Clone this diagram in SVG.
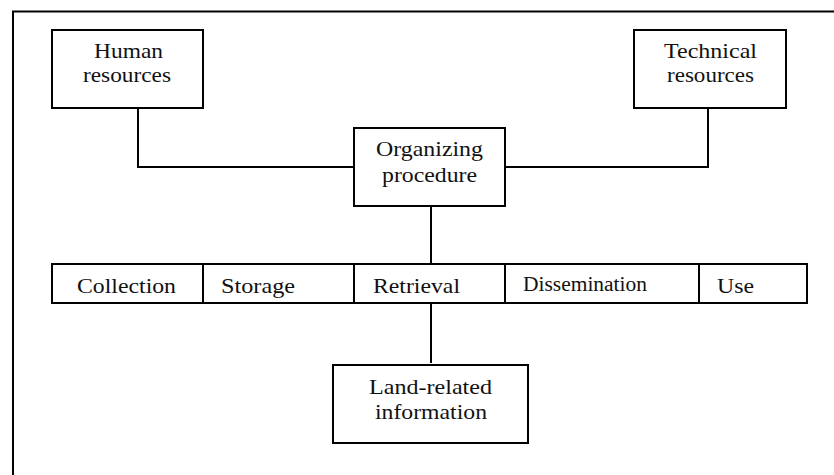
<svg xmlns="http://www.w3.org/2000/svg" width="834" height="475" viewBox="0 0 834 475">
  <style>
    .box { fill: #fff; stroke: #000; stroke-width: 2; }
    .line { fill: none; stroke: #000; stroke-width: 2; }
  </style>
  <rect width="834" height="475" fill="#fff"/>

  <!-- page frame (top and left edges) -->
  <path class="line" d="M13 475 V11.5 H834"/>

  <g id="connectors">
    <path class="line" d="M138 108 V167 H354"/>
    <path class="line" d="M708 108 V167 H505"/>
    <path class="line" d="M431 206 V264"/>
    <path class="line" d="M431 303 V363"/>
  </g>

  <g font-family="Liberation Serif, DejaVu Serif, serif" font-size="22" fill="#111">
    <g id="human-resources">
      <rect class="box" x="52" y="30" width="151" height="78"/>
      <text x="94" y="58" textLength="69" lengthAdjust="spacingAndGlyphs">Human</text>
      <text x="83" y="82" textLength="88" lengthAdjust="spacingAndGlyphs">resources</text>
    </g>

    <g id="technical-resources">
      <rect class="box" x="634" y="30" width="152" height="78"/>
      <text x="664" y="58" textLength="93" lengthAdjust="spacingAndGlyphs">Technical</text>
      <text x="667" y="82" textLength="87" lengthAdjust="spacingAndGlyphs">resources</text>
    </g>

    <g id="organizing-procedure">
      <rect class="box" x="354" y="128" width="151" height="78"/>
      <text x="376" y="156" textLength="107" lengthAdjust="spacingAndGlyphs">Organizing</text>
      <text x="382" y="182" textLength="95" lengthAdjust="spacingAndGlyphs">procedure</text>
    </g>

    <g id="stages">
      <rect class="box" x="52" y="264" width="755" height="39"/>
      <path class="line" d="M203 264 V303 M354 264 V303 M505 264 V303 M699 264 V303"/>
      <text x="77" y="293" textLength="99" lengthAdjust="spacingAndGlyphs">Collection</text>
      <text x="221" y="293" textLength="74" lengthAdjust="spacingAndGlyphs">Storage</text>
      <text x="373" y="293" textLength="87" lengthAdjust="spacingAndGlyphs">Retrieval</text>
      <text x="523" y="291" font-size="20" textLength="124" lengthAdjust="spacingAndGlyphs">Dissemination</text>
      <text x="717" y="293" textLength="37" lengthAdjust="spacingAndGlyphs">Use</text>
    </g>

    <g id="land-related-information">
      <rect class="box" x="333" y="365" width="195" height="78"/>
      <text x="369" y="394" textLength="123" lengthAdjust="spacingAndGlyphs">Land-related</text>
      <text x="375" y="419" textLength="112" lengthAdjust="spacingAndGlyphs">information</text>
    </g>
  </g>
</svg>
